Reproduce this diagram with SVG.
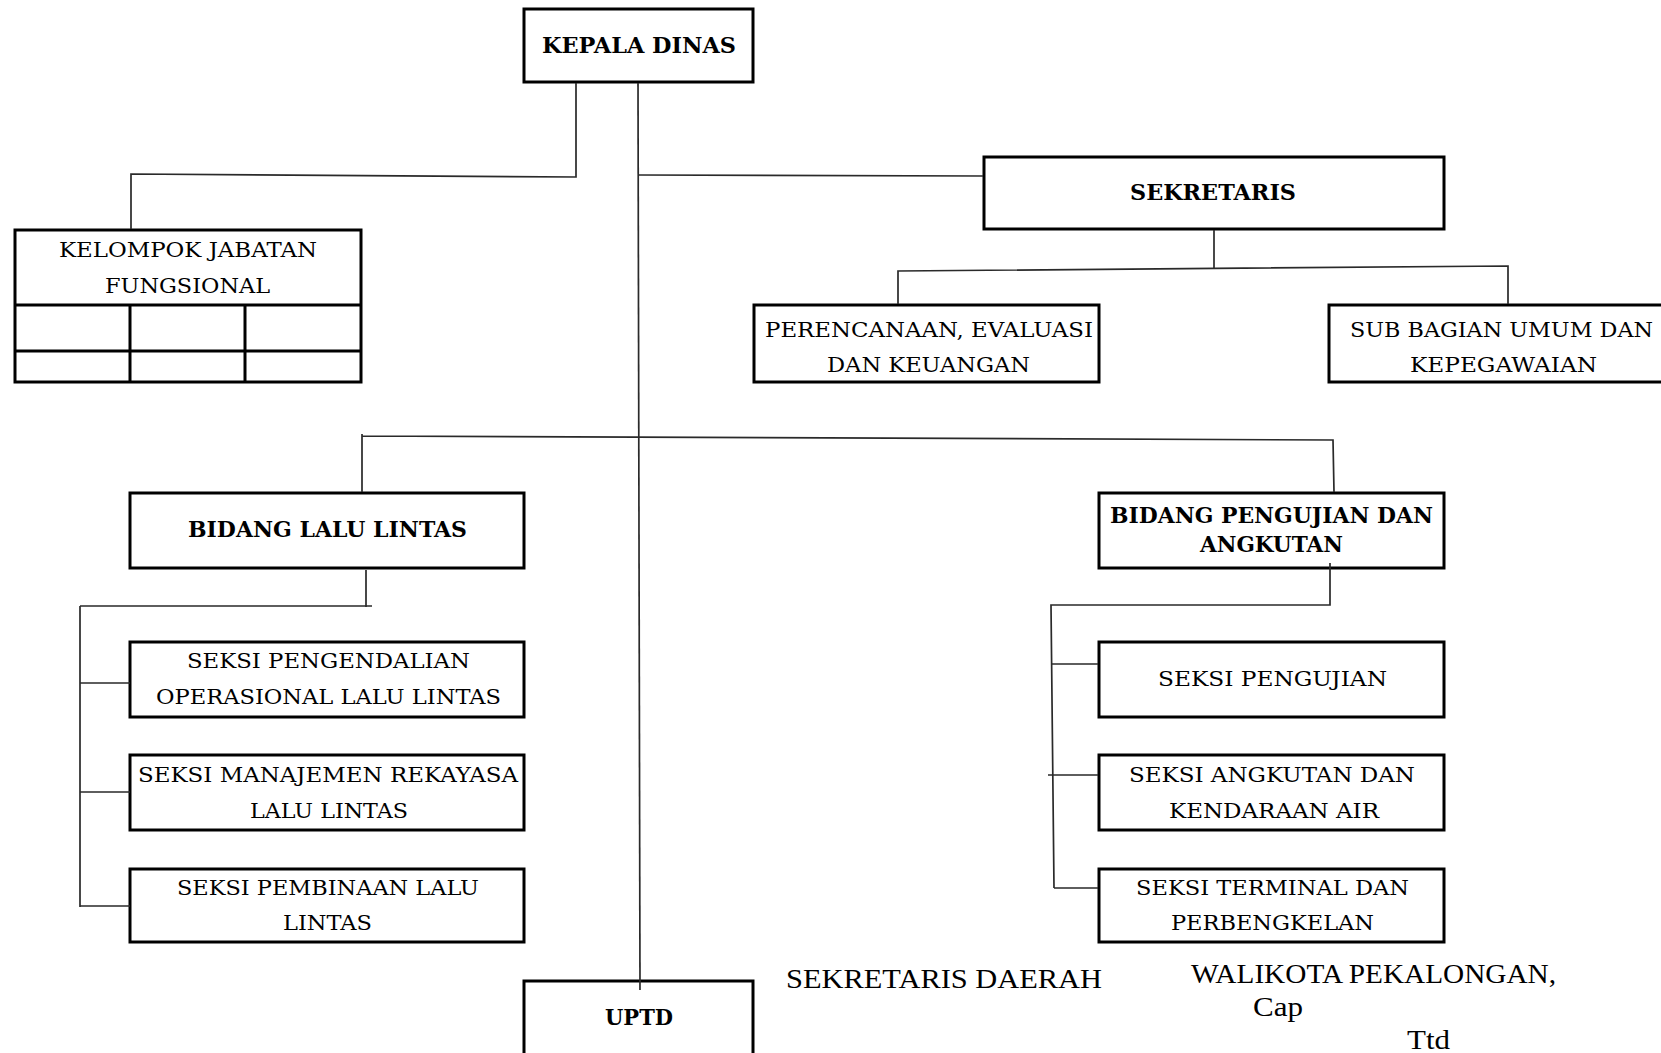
<svg xmlns="http://www.w3.org/2000/svg" width="1661" height="1053" viewBox="0 0 1661 1053">
<style>
.box{fill:#fff;stroke:#000;stroke-width:3}
.in{fill:none;stroke:#000;stroke-width:3}
.c{fill:none;stroke:#2a2a2a;stroke-width:1.7}
.t{font-family:"DejaVu Serif",serif;font-size:20.5px;fill:#000}
.b{font-family:"DejaVu Serif",serif;font-weight:bold;font-size:21.5px;fill:#000}
.s{font-family:"Liberation Serif",serif;font-size:28px;fill:#000}
</style>
<rect width="1661" height="1053" fill="#fff"/>

<g id="kepala-dinas">
<rect class="box" x="524" y="9" width="229" height="73"/>
<text class="b" x="542" y="53" textLength="194" lengthAdjust="spacingAndGlyphs">KEPALA DINAS</text>
</g>

<g id="kelompok-jabatan-fungsional">
<rect class="box" x="15" y="230" width="346" height="152"/>
<path class="in" d="M15,305 H361 M15,351 H361 M130,305 V382 M245,305 V382"/>
<text class="t" x="59" y="257" textLength="258" lengthAdjust="spacingAndGlyphs">KELOMPOK JABATAN</text>
<text class="t" x="105" y="293" textLength="165" lengthAdjust="spacingAndGlyphs">FUNGSIONAL</text>
</g>

<g id="sekretaris">
<rect class="box" x="984" y="157" width="460" height="72"/>
<text class="b" x="1130" y="200" textLength="166" lengthAdjust="spacingAndGlyphs">SEKRETARIS</text>
</g>

<g id="perencanaan">
<rect class="box" x="754" y="305" width="345" height="77"/>
<text class="t" x="765" y="337" textLength="328" lengthAdjust="spacingAndGlyphs">PERENCANAAN, EVALUASI</text>
<text class="t" x="827" y="372" textLength="203" lengthAdjust="spacingAndGlyphs">DAN KEUANGAN</text>
</g>

<g id="sub-bagian-umum">
<rect class="box" x="1329" y="305" width="345" height="77"/>
<text class="t" x="1350" y="337" textLength="303" lengthAdjust="spacingAndGlyphs">SUB BAGIAN UMUM DAN</text>
<text class="t" x="1410" y="372" textLength="187" lengthAdjust="spacingAndGlyphs">KEPEGAWAIAN</text>
</g>

<g id="bidang-lalu-lintas">
<rect class="box" x="130" y="493" width="394" height="75"/>
<text class="b" x="188" y="537" textLength="279" lengthAdjust="spacingAndGlyphs">BIDANG LALU LINTAS</text>
</g>

<g id="bidang-pengujian">
<rect class="box" x="1099" y="493" width="345" height="75"/>
<text class="b" x="1110" y="523" textLength="323" lengthAdjust="spacingAndGlyphs">BIDANG PENGUJIAN DAN</text>
<text class="b" x="1200" y="552" textLength="143" lengthAdjust="spacingAndGlyphs">ANGKUTAN</text>
</g>

<g id="seksi-pengendalian">
<rect class="box" x="130" y="642" width="394" height="75"/>
<text class="t" x="187" y="668" textLength="283" lengthAdjust="spacingAndGlyphs">SEKSI PENGENDALIAN</text>
<text class="t" x="156" y="704" textLength="345" lengthAdjust="spacingAndGlyphs">OPERASIONAL LALU LINTAS</text>
</g>

<g id="seksi-manajemen">
<rect class="box" x="130" y="755" width="394" height="75"/>
<text class="t" x="138" y="782" textLength="380" lengthAdjust="spacingAndGlyphs">SEKSI MANAJEMEN REKAYASA</text>
<text class="t" x="250" y="818" textLength="158" lengthAdjust="spacingAndGlyphs">LALU LINTAS</text>
</g>

<g id="seksi-pembinaan">
<rect class="box" x="130" y="869" width="394" height="73"/>
<text class="t" x="177" y="895" textLength="302" lengthAdjust="spacingAndGlyphs">SEKSI PEMBINAAN LALU</text>
<text class="t" x="283" y="930" textLength="89" lengthAdjust="spacingAndGlyphs">LINTAS</text>
</g>

<g id="seksi-pengujian">
<rect class="box" x="1099" y="642" width="345" height="75"/>
<text class="t" x="1158" y="686" textLength="229" lengthAdjust="spacingAndGlyphs">SEKSI PENGUJIAN</text>
</g>

<g id="seksi-angkutan">
<rect class="box" x="1099" y="755" width="345" height="75"/>
<text class="t" x="1129" y="782" textLength="286" lengthAdjust="spacingAndGlyphs">SEKSI ANGKUTAN DAN</text>
<text class="t" x="1169" y="818" textLength="210" lengthAdjust="spacingAndGlyphs">KENDARAAN AIR</text>
</g>

<g id="seksi-terminal">
<rect class="box" x="1099" y="869" width="345" height="73"/>
<text class="t" x="1136" y="895" textLength="273" lengthAdjust="spacingAndGlyphs">SEKSI TERMINAL DAN</text>
<text class="t" x="1171" y="930" textLength="203" lengthAdjust="spacingAndGlyphs">PERBENGKELAN</text>
</g>

<g id="uptd">
<rect class="box" x="524" y="981" width="229" height="90"/>
<text class="b" x="605" y="1025" textLength="68" lengthAdjust="spacingAndGlyphs">UPTD</text>
</g>

<g id="connectors">
<path class="c" d="M576,83 L576,177 L131,174 L131,229"/>
<path class="c" d="M638,83 L640,990"/>
<path class="c" d="M638,175 L983,176"/>
<path class="c" d="M1214,230 L1214,269"/>
<path class="c" d="M898,304 L898,271 L1508,266 L1508,304"/>
<path class="c" d="M362,492 L362,434 M362,436 L1333,440 L1334,492"/>
<path class="c" d="M366,570 L366,607 M80,606 L372,606 M80,606 L80,907"/>
<path class="c" d="M80,683 H130 M80,792 H130 M80,906 H130"/>
<path class="c" d="M1330,563 L1330,605 L1051,605 L1054,888"/>
<path class="c" d="M1051,664 H1098 M1048,775 H1098 M1054,888 H1098"/>
</g>

<g id="signatures">
<text class="s" x="786" y="988" textLength="316" lengthAdjust="spacingAndGlyphs">SEKRETARIS DAERAH</text>
<text class="s" x="1191" y="983" textLength="365" lengthAdjust="spacingAndGlyphs">WALIKOTA PEKALONGAN,</text>
<text class="s" x="1253" y="1016" textLength="50" lengthAdjust="spacingAndGlyphs">Cap</text>
<text class="s" x="1407" y="1049" textLength="43" lengthAdjust="spacingAndGlyphs">Ttd</text>
</g>
</svg>
